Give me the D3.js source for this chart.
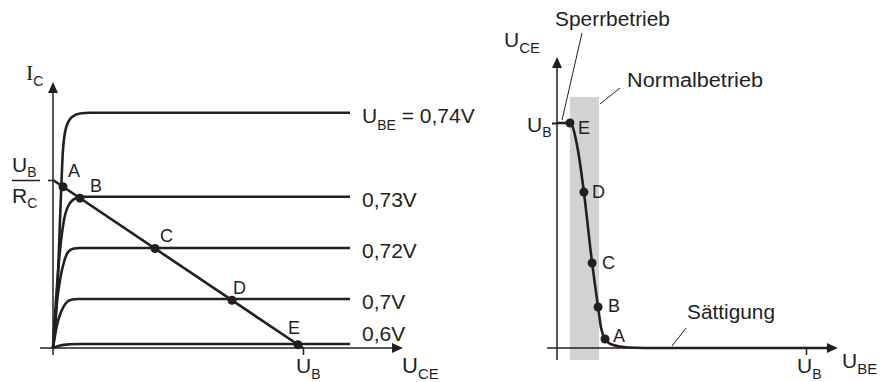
<!DOCTYPE html>
<html><head><meta charset="utf-8">
<script src="https://cdn.jsdelivr.net/npm/d3@7"></script>
<style>
html,body{margin:0;padding:0;background:#fff;}
svg{display:block;}
text{font-family:"Liberation Sans",Arial,Helvetica,sans-serif;fill:#231f20;}
</style></head>
<body>
<script>
// ---------- DATA ----------
// Left chart: output characteristics, U_CE in units of U_B, I_C in units where U_B/R_C = 10
const curveLabels = ["0,74V", "0,73V", "0,72V", "0,7V", "0,6V"];
const curve074 = [[0,0],[0.016,2.9],[0.028,7.6],[0.04,11.8],[0.052,13.1],[0.076,13.75],[0.108,13.96],[0.148,14],[1.188,14]];
const curve073 = [[0,0],[0.012,2.86],[0.028,5.83],[0.044,7.62],[0.068,8.63],[0.1,8.96],[0.128,9],[1.188,9]];
const curve072 = [[0,0],[0.012,2.26],[0.028,4.05],[0.044,5.12],[0.06,5.71],[0.084,5.92],[0.108,5.95],[1.188,5.95]];
const curve070 = [[0,0],[0.016,1.37],[0.032,2.14],[0.052,2.68],[0.076,2.89],[0.1,2.92],[1.188,2.92]];
const curve060 = [[0,0],[0.028,0.15],[0.068,0.22],[0.108,0.24],[1.188,0.24]];
const loadLine = [[0,10],[1,0]];
const leftPoints = ["A","B","C","D","E"];
const leftPointsU = [0.04, 0.108, 0.408, 0.716, 0.98];
const leftPointsI = [9.6, 8.92, 5.92, 2.84, 0.2];

// Right chart: transfer characteristic, U_BE and U_CE in units of U_B
const transferCurve = [[0,1],[0.052,1],[0.084,0.88],[0.108,0.693],[0.141,0.378],[0.165,0.182],[0.177,0.089],[0.193,0.04],[0.225,0.013],[0.285,0.002],[0.353,0],[1.096,0]];
const rightPoints = ["E","D","C","B","A"];
const rightPointsU = [0.052, 0.108, 0.141, 0.165, 0.193];
const rightPointsV = [1, 0.693, 0.378, 0.182, 0.04];
const normalBand = [0.052, 0.169];

// ---------- DRAWING ----------
const W = 881, H = 382, ink = "#231f20";
const svg = d3.select("body").append("svg").attr("width", W).attr("height", H);
svg.append("rect").attr("width", W).attr("height", H).attr("fill", "#fff");

function arrow(g, x, y, dir) {
  const L = 11, hw = 5;
  let p;
  if (dir === "up") p = [[x, y], [x - hw, y + L], [x + hw, y + L]];
  else p = [[x, y], [x - L, y - hw], [x - L, y + hw]];
  g.append("path").attr("d", "M" + p.map(d => d.join(",")).join("L") + "Z").attr("fill", ink);
}
function sub(g, x, y, main, s, size, ssize, rest, mainFamily, sdy) {
  const d = sdy != null ? sdy : ssize * 0.45;
  const t = g.append("text").attr("x", x).attr("y", y).attr("font-size", size);
  const m = t.append("tspan").text(main);
  if (mainFamily) m.attr("font-family", mainFamily);
  t.append("tspan").attr("font-size", ssize).attr("dy", d).text(s);
  if (rest) t.append("tspan").attr("dy", -d).text(rest);
  return t;
}

// ----- LEFT -----
const xL = d3.scaleLinear().domain([0, 1]).range([53, 303]);
const yL = d3.scaleLinear().domain([0, 10]).range([348, 180]);
const gL = svg.append("g");

gL.append("line").attr("x1", xL(-0.052)).attr("x2", xL(1.4) - 8).attr("y1", yL(0)).attr("y2", yL(0)).attr("stroke", ink).attr("stroke-width", 1.5);
arrow(gL, xL(1.4), yL(0), "right");
gL.append("line").attr("x1", xL(0)).attr("x2", xL(0)).attr("y1", yL(-0.42)).attr("y2", yL(15.83) + 8).attr("stroke", ink).attr("stroke-width", 1.5);
arrow(gL, xL(0), yL(15.83), "up");
const axB = gL.append("g").attr("transform", `translate(0,${yL(0)})`)
  .call(d3.axisBottom(xL).tickValues([1]).tickSizeInner(7).tickSizeOuter(0).tickFormat(""));
axB.select(".domain").remove();
axB.selectAll("line").attr("stroke", ink).attr("stroke-width", 1.5);
const axLft = gL.append("g").attr("transform", `translate(${xL(0)},0)`)
  .call(d3.axisLeft(yL).tickValues([10]).tickSizeInner(5).tickSizeOuter(0).tickFormat(""));
axLft.select(".domain").remove();
axLft.selectAll("line").attr("stroke", ink).attr("stroke-width", 1.5);

const lineL = d3.line().x(d => xL(d[0])).y(d => yL(d[1])).curve(d3.curveMonotoneX);
const curves = [curve074, curve073, curve072, curve070, curve060];
curves.forEach(c => gL.append("path").attr("d", lineL(c)).attr("fill", "none").attr("stroke", ink).attr("stroke-width", 2.6));
gL.append("path").attr("d", d3.line().x(d => xL(d[0])).y(d => yL(d[1]))(loadLine)).attr("fill", "none").attr("stroke", ink).attr("stroke-width", 2.6);

curves.forEach((c, i) => {
  const last = c[c.length - 1];
  if (i === 0) {
    sub(gL, xL(last[0]) + 12, yL(last[1]) + 10, "U", "BE", 21, 14, " = " + curveLabels[i], null, 7);
  } else {
    gL.append("text").attr("x", xL(last[0]) + 12).attr("y", yL(last[1]) + (i === 4 ? -3 : 10)).attr("font-size", 21).text(curveLabels[i]);
  }
});

const lOff = [[5, -10], [10, -6], [5, -7], [1, -6], [-10, -11]];
leftPoints.forEach((p, i) => {
  gL.append("circle").attr("cx", xL(leftPointsU[i])).attr("cy", yL(leftPointsI[i])).attr("r", 4.5).attr("fill", ink);
  gL.append("text").attr("x", xL(leftPointsU[i]) + lOff[i][0]).attr("y", yL(leftPointsI[i]) + lOff[i][1]).attr("font-size", 18).text(p);
});

sub(gL, 26, 80, "I", "C", 22, 14, null, "'Liberation Serif','Times New Roman',serif", 6);
sub(gL, 12, 172, "U", "B", 21, 14, null, null, 5);
gL.append("line").attr("x1", 12).attr("x2", 40).attr("y1", 180.5).attr("y2", 180.5).attr("stroke", ink).attr("stroke-width", 1.5);
sub(gL, 12, 203, "R", "C", 21, 14, null, null, 5);
sub(gL, 296, 373, "U", "B", 21, 14, null, null, 6);
sub(gL, 402, 373, "U", "CE", 22, 15, null, null, 6);

// ----- RIGHT -----
const xR = d3.scaleLinear().domain([0, 1]).range([557, 806]);
const yR = d3.scaleLinear().domain([0, 1]).range([348, 123]);
const gR = svg.append("g");

gR.append("rect").attr("x", xR(normalBand[0])).attr("width", xR(normalBand[1]) - xR(normalBand[0]))
  .attr("y", yR(1.116)).attr("height", yR(-0.053) - yR(1.116)).attr("fill", "#d1d2d4");

gR.append("line").attr("x1", xR(-0.04)).attr("x2", xR(1.128) - 8).attr("y1", yR(0)).attr("y2", yR(0)).attr("stroke", ink).attr("stroke-width", 1.5);
arrow(gR, xR(1.128), yR(0), "right");
gR.append("line").attr("x1", xR(0)).attr("x2", xR(0)).attr("y1", yR(-0.053)).attr("y2", yR(1.293) + 8).attr("stroke", ink).attr("stroke-width", 1.5);
arrow(gR, xR(0), yR(1.293), "up");
const axRB = gR.append("g").attr("transform", `translate(0,${yR(0)})`)
  .call(d3.axisBottom(xR).tickValues([1]).tickSizeInner(7).tickSizeOuter(0).tickFormat(""));
axRB.select(".domain").remove();
axRB.selectAll("line").attr("stroke", ink).attr("stroke-width", 1.5);
const axRL = gR.append("g").attr("transform", `translate(${xR(0)},0)`)
  .call(d3.axisLeft(yR).tickValues([1]).tickSizeInner(5).tickSizeOuter(0).tickFormat(""));
axRL.select(".domain").remove();
axRL.selectAll("line").attr("stroke", ink).attr("stroke-width", 2);

const lineR = d3.line().x(d => xR(d[0])).y(d => yR(d[1])).curve(d3.curveMonotoneX);
gR.append("path").attr("d", lineR(transferCurve)).attr("fill", "none").attr("stroke", ink).attr("stroke-width", 2.6);

const rOff = [[8, 11], [8, 6], [10, 6], [10, 5], [8, 3]];
rightPoints.forEach((p, i) => {
  gR.append("circle").attr("cx", xR(rightPointsU[i])).attr("cy", yR(rightPointsV[i])).attr("r", 4.5).attr("fill", ink);
  gR.append("text").attr("x", xR(rightPointsU[i]) + rOff[i][0]).attr("y", yR(rightPointsV[i]) + rOff[i][1]).attr("font-size", 18).text(p);
});

gR.append("text").attr("x", 555).attr("y", 26).attr("font-size", 20).attr("textLength", 115).attr("lengthAdjust", "spacingAndGlyphs").text("Sperrbetrieb");
gR.append("line").attr("x1", 582).attr("y1", 33).attr("x2", 562).attr("y2", 120).attr("stroke", ink).attr("stroke-width", 1);
gR.append("text").attr("x", 627).attr("y", 87).attr("font-size", 20).attr("textLength", 136).attr("lengthAdjust", "spacingAndGlyphs").text("Normalbetrieb");
gR.append("line").attr("x1", 620).attr("y1", 88).attr("x2", 600).attr("y2", 104).attr("stroke", ink).attr("stroke-width", 1);
gR.append("text").attr("x", 687).attr("y", 319).attr("font-size", 20).attr("textLength", 88).attr("lengthAdjust", "spacingAndGlyphs").text("Sättigung");
gR.append("line").attr("x1", 686).attr("y1", 328).attr("x2", 672).attr("y2", 346).attr("stroke", ink).attr("stroke-width", 1);

sub(gR, 504, 47, "U", "CE", 21, 15, null, null, 6);
sub(gR, 527, 132, "U", "B", 21, 14, null, null, 5);
sub(gR, 842, 368, "U", "BE", 21, 15, null, null, 6);
sub(gR, 797, 373, "U", "B", 21, 14, null, null, 6);
</script>
</body></html>
